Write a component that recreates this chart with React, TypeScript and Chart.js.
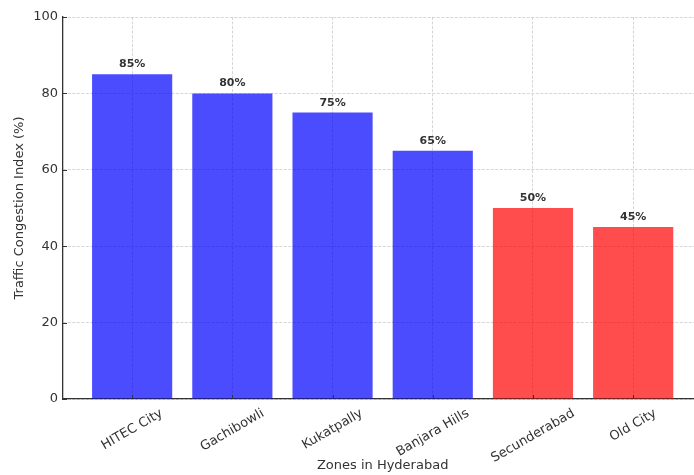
import React, { useEffect, useRef } from "react";
import { Chart, registerables } from "chart.js";

Chart.register(...registerables);

const zones = ["HITEC City", "Gachibowli", "Kukatpally", "Banjara Hills", "Secunderabad", "Old City"];
const congestion = [85, 80, 75, 65, 50, 45];
const barColors = [
  "rgba(0,0,255,0.7)",
  "rgba(0,0,255,0.7)",
  "rgba(0,0,255,0.7)",
  "rgba(0,0,255,0.7)",
  "rgba(255,0,0,0.7)",
  "rgba(255,0,0,0.7)",
];
const yTicks = [0, 20, 40, 60, 80, 100];
const xAxisTitle = "Zones in Hyderabad";
const yAxisTitle = "Traffic Congestion Index (%)";

const FONT = '"DejaVu Sans", sans-serif';
const TEXT = "#333333";

const textPlugin = {
  id: "textPlugin",
  afterDraw(chart: any) {
    const ctx = chart.ctx;
    const xs = chart.scales.x;
    const ys = chart.scales.y;
    const area = chart.chartArea;
    ctx.save();
    // inward tick marks
    ctx.strokeStyle = "#333333";
    ctx.lineWidth = 1;
    ctx.beginPath();
    zones.forEach((_, i) => {
      const x = Math.round(xs.getPixelForValue(i)) + 0.5;
      ctx.moveTo(x, area.bottom);
      ctx.lineTo(x, area.bottom - 4);
    });
    yTicks.forEach((v) => {
      const y = Math.round(ys.getPixelForValue(v)) + 0.5;
      ctx.moveTo(area.left, y);
      ctx.lineTo(area.left + 4, y);
    });
    ctx.stroke();

    ctx.fillStyle = TEXT;
    ctx.font = `13px ${FONT}`;
    const ang = (30 * Math.PI) / 180;
    zones.forEach((z, i) => {
      const x = xs.getPixelForValue(i);
      const w = ctx.measureText(z).width;
      const h = 15;
      const bh = w * Math.sin(ang) + h * Math.cos(ang);
      const cy = area.bottom + 7 + bh / 2;
      ctx.save();
      ctx.translate(x, cy);
      ctx.rotate(-ang);
      ctx.textAlign = "center";
      ctx.textBaseline = "middle";
      ctx.fillText(z, 0, 0);
      ctx.restore();
    });
    ctx.textAlign = "center";
    ctx.textBaseline = "middle";
    ctx.fillText(xAxisTitle, xs.getPixelForValue((zones.length - 1) / 2), 466);
    ctx.save();
    ctx.translate(20, (area.top + area.bottom) / 2);
    ctx.rotate(-Math.PI / 2);
    ctx.fillText(yAxisTitle, 0, 0);
    ctx.restore();

    const meta = chart.getDatasetMeta(0);
    ctx.font = `bold 11px ${FONT}`;
    ctx.textBaseline = "alphabetic";
    meta.data.forEach((bar: any, i: number) => {
      ctx.fillText(`${congestion[i]}%`, bar.x, bar.y - 7);
    });
    ctx.restore();
  },
};

export default function App() {
  const ref = useRef<HTMLCanvasElement | null>(null);
  useEffect(() => {
    if (!ref.current) return;
    const chart = new Chart(ref.current, {
      type: "bar",
      data: {
        datasets: [
          {
            data: congestion.map((v, i) => ({ x: i, y: v })),
            backgroundColor: barColors,
            borderWidth: 0,
            barPercentage: 0.8,
            categoryPercentage: 1,
          },
        ],
      },
      options: {
        responsive: false,
        animation: false,
        layout: { padding: { top: 17, left: 0, right: 0, bottom: 0 } },
        plugins: { legend: { display: false }, tooltip: { enabled: false }, title: { display: false } },
        scales: {
          x: {
            type: "linear",
            offset: false,
            min: -0.69,
            max: 5.607,
            afterBuildTicks: (axis: any) => {
              axis.ticks = zones.map((_, i) => ({ value: i }));
            },
            afterFit: (scale: any) => {
              scale.height = 76;
            },
            ticks: { display: false },
            grid: { offset: false, color: "#cccccc", lineWidth: 0.8, drawTicks: false },
            border: { display: true, color: "#333333", width: 1.3, dash: [3, 1.5] },
          },
          y: {
            min: 0,
            max: 100,
            afterBuildTicks: (axis: any) => {
              axis.ticks = yTicks.map((v) => ({ value: v }));
            },
            afterFit: (scale: any) => {
              scale.width = 63;
            },
            ticks: { color: TEXT, font: { family: FONT, size: 13 }, padding: 5 },
            grid: { color: "#cccccc", lineWidth: 0.8, drawTicks: false },
            border: { display: true, color: "#333333", width: 1.3, dash: [3, 1.5] },
          },
        },
      } as any,
      plugins: [textPlugin],
    });
    return () => chart.destroy();
  }, []);
  return (
    <div style={{ position: "fixed", left: 0, top: 0, width: 694, height: 475, background: "#fff" }}>
      <canvas ref={ref} width={694} height={475} style={{ display: "block" }} />
    </div>
  );
}
